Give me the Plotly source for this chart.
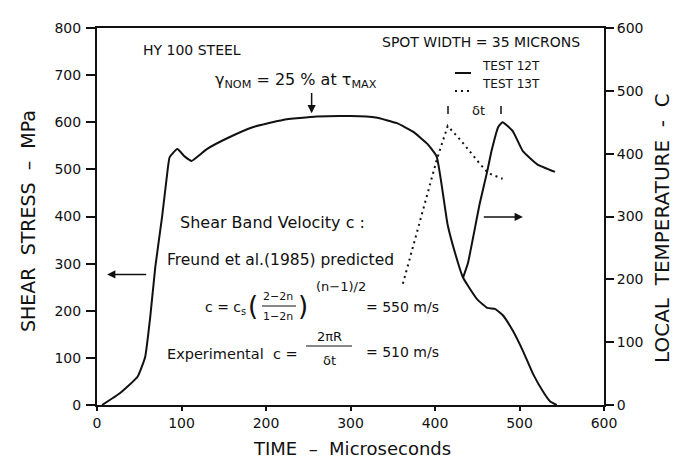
import plotly.graph_objects as go

# ---- data -------------------------------------------------------------
# TEST 12T shear stress history (left axis, MPa)
stress_time_us = [6, 27, 48, 57, 63, 69, 77, 83, 86, 95,
                  104, 112, 130, 154, 185, 220, 260, 300, 330, 355,
                  374, 391, 402, 415, 427, 433, 439, 450, 462, 471,
                  480, 492, 504, 516, 528, 536, 544]
stress_mpa = [0, 25, 60, 102, 187, 293, 399, 490, 526, 543,
              527, 518, 543, 566, 590, 605, 612, 613, 610, 598,
              580, 554, 527, 382, 303, 271, 253, 224, 206, 204,
              191, 158, 115, 66, 28, 8, 0]

# TEST 12T local temperature (right axis, C)
temp12_time_us = [433, 439, 453, 462, 467, 475, 480, 492, 504, 521, 542]
temp12_c = [202, 226, 321, 373, 405, 443, 450, 436, 404, 383, 371]

# TEST 13T local temperature (right axis, C)
temp13_time_us = [362, 388, 402, 415, 430, 453, 463, 480]
temp13_c = [193, 323, 390, 444, 422, 384, 369, 360]

x_ticks = [0, 100, 200, 300, 400, 500, 600]
stress_ticks = [0, 100, 200, 300, 400, 500, 600, 700, 800]
temp_ticks = [0, 100, 200, 300, 400, 500, 600]

# ---- layout geometry (pixels) ----------------------------------------
W, H = 674, 458
X0, X1, Y0, Y1 = 97, 604, 28, 405
FONT = "DejaVu Sans"
INK = "#111111"


def px(x):
    return (x - X0) / (X1 - X0)


def py(y):
    return (Y1 - y) / (Y1 - Y0)


fig = go.Figure()
fig.add_trace(go.Scatter(x=stress_time_us, y=stress_mpa, mode="lines",
                         line=dict(color=INK, width=2, shape="spline", smoothing=0.4),
                         name="TEST 12T", yaxis="y"))
fig.add_trace(go.Scatter(x=temp12_time_us, y=temp12_c, mode="lines",
                         line=dict(color=INK, width=2, shape="spline", smoothing=0.4),
                         name="TEST 12T", yaxis="y2"))
fig.add_trace(go.Scatter(x=temp13_time_us, y=temp13_c, mode="lines",
                         line=dict(color=INK, width=2, dash="2px,4px"),
                         name="TEST 13T", yaxis="y2"))

tick_font = dict(family=FONT, size=14, color=INK)

fig.update_layout(
    width=W, height=H,
    margin=dict(l=X0, r=W - X1, t=Y0, b=H - Y1, pad=0),
    paper_bgcolor="white", plot_bgcolor="white",
    showlegend=False,
    font=dict(family=FONT, color=INK),
    xaxis=dict(range=[0, 600], tickvals=x_ticks, showgrid=False, zeroline=False,
               showline=True, linecolor=INK, linewidth=2, mirror=True,
               ticks="outside", ticklen=4, tickwidth=1.5, tickcolor=INK,
               tickfont=tick_font),
    yaxis=dict(range=[0, 800], tickvals=stress_ticks, showgrid=False, zeroline=False,
               showline=True, linecolor=INK, linewidth=2,
               ticks="outside", ticklen=9, tickwidth=1.5, tickcolor=INK,
               tickfont=tick_font, ticklabelstandoff=2),
    yaxis2=dict(range=[0, 600], tickvals=temp_ticks, overlaying="y", side="right",
                showgrid=False, zeroline=False,
                showline=True, linecolor=INK, linewidth=2,
                ticks="outside", ticklen=8, tickwidth=1.5, tickcolor=INK,
                tickfont=tick_font),
)

ann = []


def text(x, y, s, size, anchor="left", angle=0):
    ann.append(dict(x=px(x), y=py(y), xref="paper", yref="paper", text=s,
                    showarrow=False, xanchor=anchor, yanchor="middle",
                    textangle=angle, font=dict(family=FONT, size=size, color=INK)))


# axis titles
text(28, 221, "SHEAR  STRESS  –  MPa", 19, "center", -90)
text(662, 228, "LOCAL  TEMPERATURE  -  C", 20, "center", -90)
text(352, 448, "TIME  –  Microseconds", 18, "center")

# headings
text(141, 50, "HY 100 STEEL", 14)
text(380, 42, "SPOT WIDTH = 35 MICRONS", 14)
text(213, 80, "γ<sub>NOM</sub> = 25 % at τ<sub>MAX</sub>", 16)

# legend entries
text(480, 66, "TEST 12T", 12)
text(480, 84, "TEST 13T", 12)

# δt between the two temperature peaks
text(478, 110, "δt", 13, "center")

# shear band velocity notes
text(178, 222, "Shear Band Velocity c :", 16)
text(165, 260, "Freund et al.(1985) predicted", 15.5)
text(203, 308, "c = c<sub>s</sub>", 14)
text(246, 306, "(", 26)
text(278, 297, "2−2n", 11, "center")
text(278, 316, "1−2n", 11, "center")
text(296, 306, ")", 26)
text(314, 286, "(n−1)/2", 13)
text(364, 307, "= 550 m/s", 14)
text(165, 354, "Experimental  c =", 14.5)
text(329, 336, "2πR", 13, "center")
text(329, 360, "δt", 13, "center")
text(364, 352, "= 510 m/s", 14)

# arrows: which axis each curve belongs to, and the stress maximum
arrow_style = dict(showarrow=True, arrowhead=2, arrowsize=1.1, arrowwidth=1.5,
                   arrowcolor=INK, text="", xref="x", yref="y", axref="x", ayref="y")
ann.append(dict(x=12, y=277, ax=60, ay=277, **arrow_style))
ann.append(dict(x=504, y=399, ax=456, ay=399, **arrow_style))
ann.append(dict(x=254, y=619, ax=254, ay=665, **arrow_style))

fig.update_layout(annotations=ann)

shapes = []


def seg(xa, ya, xb, yb, dash="solid", width=1.5):
    shapes.append(dict(type="line", xref="paper", yref="paper",
                       x0=px(xa), y0=py(ya), x1=px(xb), y1=py(yb),
                       line=dict(color=INK, width=width, dash=dash)))


# legend samples
seg(455, 73, 471, 73, width=2)
seg(455, 91, 471, 91, dash="2px,4px", width=2)
# δt markers
seg(448, 106, 448, 114)
seg(501, 106, 501, 114)
# fraction bars
seg(262, 306, 296, 306, width=1.2)
seg(306, 346, 352, 346, width=1.2)

fig.update_layout(shapes=shapes)

fig.write_html("out.html")
